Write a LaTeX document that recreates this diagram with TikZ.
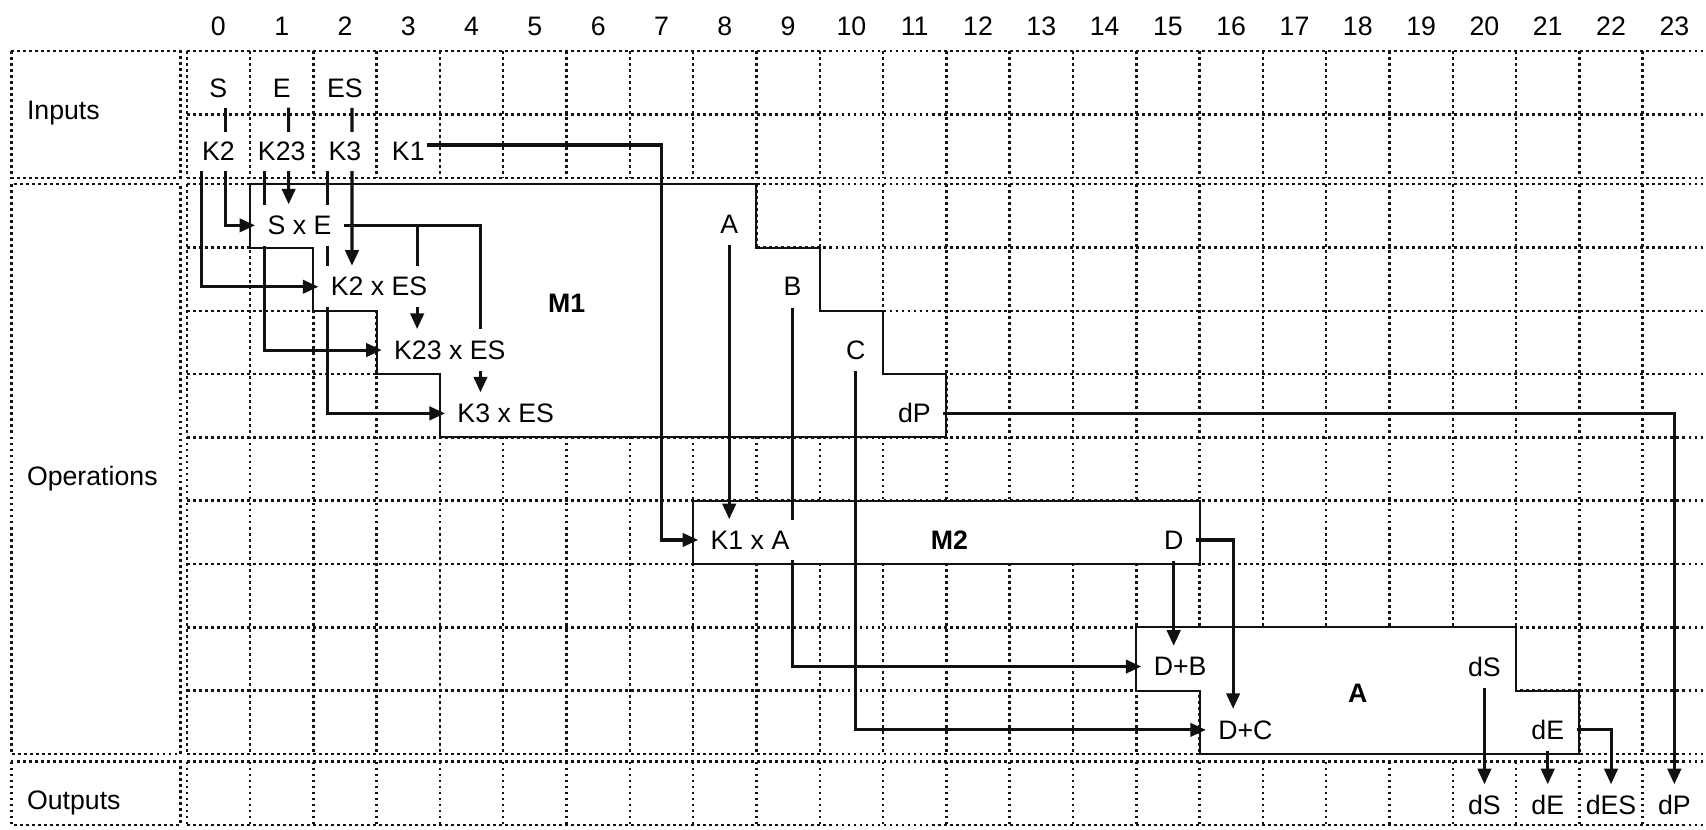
\documentclass[tikz,border=0pt]{standalone}
\usepackage{fontspec}
\setmainfont{Liberation Sans}
\usepackage{xcolor}
\usepackage{tikz}
\usetikzlibrary{arrows.meta}
\definecolor{gridInk}{HTML}{141414}
\definecolor{wireInk}{HTML}{111111}
\pgfdeclarelayer{back}
\pgfdeclarelayer{wires}
\pgfsetlayers{back,wires,main}
\tikzset{
  gridline/.style={gridInk, line width=1.1pt, dash pattern=on 1.3pt off 1.4pt},
  block/.style={draw=wireInk, line width=0.9pt, fill=white},
  arrow/.style={
    -{Triangle[length=7pt, width=6pt]},
    wireInk, line width=1.4pt
  },
  sig/.style={fill=white, inner xsep=1pt, inner ysep=4.5pt},
  op/.style={fill=white, inner xsep=5.4pt, inner ysep=5pt, anchor=west},
  tap/.style={fill=white, inner xsep=5.4pt, inner ysep=5pt},
  blocktitle/.style={font=\fontsize{12}{14}\selectfont\bfseries},
  rowhead/.style={anchor=west, inner sep=0pt},
  colnum/.style={inner sep=1pt}
}

\begin{document}
\begin{tikzpicture}[font=\fontsize{12}{14}\selectfont]
  \useasboundingbox (-2.95,0.81) rectangle (24.0,-12.3);

  % grid and blocks
  \begin{pgfonlayer}{back}
    \foreach \y in {0,-1,-2} \draw[gridline] (0,\y) -- (24.3,\y);
    \foreach \x in {0,...,23} \draw[gridline] (\x,0) -- (\x,-2);
    \foreach \r in {0,...,9} \draw[gridline] (0,-2.1-\r) -- (24.3,-2.1-\r);
    \foreach \x in {0,...,23} \draw[gridline] (\x,-2.1) -- (\x,-11.1);
    \foreach \y in {-11.22,-12.22} \draw[gridline] (0,\y) -- (24.3,\y);
    \foreach \x in {0,...,23} \draw[gridline] (\x,-11.22) -- (\x,-12.22);
    \draw[gridline] (-2.77,0) rectangle (-0.1,-2);
    \draw[gridline] (-2.77,-2.1) rectangle (-0.1,-11.1);
    \draw[gridline] (-2.77,-11.22) rectangle (-0.1,-12.22);
    \draw[block] (1,-2.1) -- (9,-2.1) -- (9,-3.1) -- (10,-3.1) -- (10,-4.1) -- (11,-4.1)
      -- (11,-5.1) -- (12,-5.1) -- (12,-6.1) -- (4,-6.1) -- (4,-5.1) -- (3,-5.1)
      -- (3,-4.1) -- (2,-4.1) -- (2,-3.1) -- (1,-3.1) -- cycle;
    \draw[block] (8,-7.1) rectangle (16,-8.1);
    \draw[block] (15,-9.1) -- (21,-9.1) -- (21,-10.1) -- (22,-10.1) -- (22,-11.1)
      -- (16,-11.1) -- (16,-10.1) -- (15,-10.1) -- cycle;
  \end{pgfonlayer}

  \foreach \c in {0,...,23} \node[colnum] (col\c) at (\c+0.5,0.39) {\c};
  \node[rowhead] (hin) at (-2.53,-0.97) {Inputs};
  \node[rowhead] (hop) at (-2.53,-6.75) {Operations};
  \node[rowhead] (hout) at (-2.53,-11.88) {Outputs};

  % inputs
  \node[sig] (s) at (0.5,-0.58) {S};
  \node[sig] (e) at (1.5,-0.58) {E};
  \node[sig] (es) at (2.5,-0.58) {ES};
  \node[sig] (k2) at (0.5,-1.58) {K2};
  \node[sig] (k23) at (1.5,-1.58) {K23};
  \node[sig] (k3) at (2.5,-1.58) {K3};
  \node[sig] (k1) at (3.5,-1.58) {K1};

  % M1
  \node[op] (sxe) at (1.08,-2.75) {S x E};
  \node[op] (k2es) at (2.08,-3.72) {K2 x ES};
  \node[op] (k23es) at (3.08,-4.72) {K23 x ES};
  \node[op] (k3es) at (4.08,-5.72) {K3 x ES};
  \node[tap] (a) at (8.57,-2.74) {A};
  \node[tap] (b) at (9.57,-3.72) {B};
  \node[tap] (c) at (10.57,-4.72) {C};
  \node[tap, anchor=east] (dp) at (11.95,-5.72) {dP};
  \node[blocktitle] (m1) at (6.0,-3.98) {M1};

  % M2
  \node[op] (k1a) at (8.08,-7.72) {K1 x A};
  \node[tap, anchor=east] (d) at (15.94,-7.72) {D};
  \node[blocktitle] (m2) at (12.05,-7.72) {M2};

  % A
  \node[op] (dpb) at (15.08,-9.72) {D+B};
  \node[op] (dpc) at (16.1,-10.72) {D+C};
  \node[tap] (ds) at (20.5,-9.72) {dS};
  \node[tap] (de) at (21.5,-10.72) {dE};
  \node[blocktitle] (ablk) at (18.5,-10.15) {A};

  % outputs
  \node[sig] (ods) at (20.5,-11.9) {dS};
  \node[sig] (ode) at (21.5,-11.9) {dE};
  \node[sig] (odes) at (22.5,-11.9) {dES};
  \node[sig] (odp) at (23.5,-11.9) {dP};

  \begin{pgfonlayer}{wires}
    \draw[arrow] ([xshift=0.11cm]s.south) |- (sxe.west);
    \draw[arrow] ([xshift=0.11cm]e.south) -- (1.61,0 |- sxe.north);
    \draw[arrow] ([xshift=0.11cm]es.south) -- (2.61,0 |- k2es.north);
    \draw[arrow] ([xshift=-0.27cm]k2.south) |- (k2es.west);
    \draw[arrow] ([xshift=-0.27cm]k23.south) |- (k23es.west);
    \draw[arrow] ([xshift=-0.27cm]k3.south) |- (k3es.west);
    \draw[arrow] ([yshift=0.1cm]k1.east) -| (7.5,0 |- k1a.west) -- (k1a.west);
    \draw[arrow] (sxe.east) -| (4.64,0 |- k3es.north);
    \coordinate (sxetap) at (3.64,0 |- sxe.east);
    \draw[arrow] (sxetap) -- (sxetap |- k23es.north);
    \draw[arrow] (a.south) -- (a.south |- k1a.north);
    \draw[arrow] (b.south) |- (dpb.west);
    \draw[arrow] (c.south) |- (dpc.west);
    \draw[arrow] (dp.east) -| (odp.north);
    \draw[arrow] (d.south) -- (d.south |- dpb.north);
    \draw[arrow] (d.east) -| (16.53,0 |- dpc.north);
    \draw[arrow] (ds.south) -- (ods.north);
    \draw[arrow] (de.south) -- (ode.north);
    \draw[arrow] (de.east) -| (odes.north);
  \end{pgfonlayer}
\end{tikzpicture}
\end{document}
